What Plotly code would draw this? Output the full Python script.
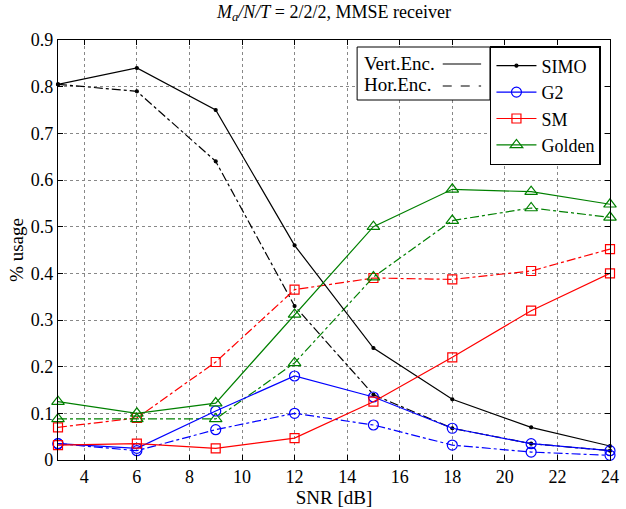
import plotly.graph_objects as go

snr = [3, 6, 9, 12, 15, 18, 21, 24]

simo_vert = [0.805, 0.84, 0.75, 0.46, 0.24, 0.13, 0.07, 0.03]
simo_hor = [0.805, 0.79, 0.64, 0.33, 0.14, 0.068, 0.035, 0.02]
g2_vert = [0.035, 0.025, 0.105, 0.18, 0.135, 0.068, 0.035, 0.02]
g2_hor = [0.035, 0.02, 0.065, 0.10, 0.075, 0.032, 0.017, 0.01]
sm_vert = [0.032, 0.035, 0.025, 0.047, 0.125, 0.22, 0.32, 0.40]
sm_hor = [0.07, 0.09, 0.21, 0.365, 0.39, 0.387, 0.405, 0.452]
gold_vert = [0.125, 0.10, 0.122, 0.312, 0.50, 0.58, 0.575, 0.548]
gold_hor = [0.088, 0.088, 0.088, 0.208, 0.392, 0.513, 0.54, 0.52]

FONT = "Times New Roman, Liberation Serif, serif"
fig = go.Figure()

series = [
    ("SIMO", simo_vert, simo_hor, "black", "circle", 3),
    ("G2", g2_vert, g2_hor, "blue", "circle-open", 10),
    ("SM", sm_vert, sm_hor, "red", "square-open", 9),
    ("Golden", gold_vert, gold_hor, "green", "triangle-up-open", 11),
]
for name, v, h, col, sym, sz in series:
    fig.add_trace(go.Scatter(x=snr, y=h, mode="lines+markers", name=name,
                             line=dict(color=col, width=1.2, dash="dashdot"),
                             marker=dict(symbol=sym, size=sz, color=col, line=dict(width=1.2, color=col)),
                             showlegend=False, cliponaxis=False))
for name, v, h, col, sym, sz in series:
    fig.add_trace(go.Scatter(x=snr, y=v, mode="lines+markers", name=name,
                             line=dict(color=col, width=1.2),
                             marker=dict(symbol=sym, size=sz, color=col, line=dict(width=1.2, color=col)),
                             legend="legend2", cliponaxis=False))

L, R, T, B = 58, 619, 40, 460
W, H = R - L, B - T
def px(x):
    return (x - L) / W
def py(y):
    return (B - y) / H

shapes = [
    dict(type="rect", xref="paper", yref="paper", x0=px(362), x1=px(497), y0=py(100), y1=py(47),
         line=dict(color="black", width=1), fillcolor="white", layer="above"),
    dict(type="line", xref="paper", yref="paper", x0=px(449), x1=px(488), y0=py(64), y1=py(64),
         line=dict(color="black", width=1.2), layer="above"),
    dict(type="line", xref="paper", yref="paper", x0=px(449), x1=px(488), y0=py(86), y1=py(86),
         line=dict(color="black", width=1.2, dash="dash"), layer="above"),
]
annotations = [
    dict(text="Vert.Enc.", xref="paper", yref="paper", x=px(367), y=py(63), xanchor="left", yanchor="middle",
         showarrow=False, font=dict(family=FONT, size=19, color="black")),
    dict(text="Hor.Enc.", xref="paper", yref="paper", x=px(367), y=py(85), xanchor="left", yanchor="middle",
         showarrow=False, font=dict(family=FONT, size=19, color="black")),
]

axis_common = dict(showline=True, linecolor="black", linewidth=1.2, mirror="ticks", ticks="inside",
                   ticklen=5, tickcolor="black", showgrid=True, gridcolor="#888888", griddash="dot",
                   gridwidth=1, zeroline=False, ticklabeloverflow="allow",
                   tickfont=dict(family=FONT, size=18, color="black"))

fig.update_layout(
    width=626, height=509,
    margin=dict(l=L, r=626 - R, t=T, b=509 - B),
    paper_bgcolor="white", plot_bgcolor="white",
    font=dict(family=FONT, color="black"),
    title=dict(text="<i>M</i><sub><i>a</i></sub><i>/N/T</i> = 2/2/2, MMSE receiver",
               xref="paper", x=0.5, xanchor="center", y=0.99, yanchor="top",
               font=dict(family=FONT, size=18, color="black")),
    xaxis=dict(range=[3, 24], tickvals=list(range(4, 25, 2)),
               title=dict(text="SNR [dB]", font=dict(family=FONT, size=19, color="black"), standoff=0),
               **axis_common),
    yaxis=dict(range=[0, 0.9], tickvals=[i / 10 for i in range(10)],
               ticktext=["0"] + [f"{i/10:.1f}" for i in range(1, 10)],
               title=dict(text="% usage", font=dict(family=FONT, size=19, color="black"), standoff=2),
               **axis_common),
    legend2=dict(x=px(497), y=py(46), xanchor="left", yanchor="top", bgcolor="white",
                 bordercolor="black", borderwidth=1.5, font=dict(family=FONT, size=18, color="black"),
                 tracegroupgap=0, itemwidth=40),
    shapes=shapes, annotations=annotations,
)

fig.write_html("out.html")
